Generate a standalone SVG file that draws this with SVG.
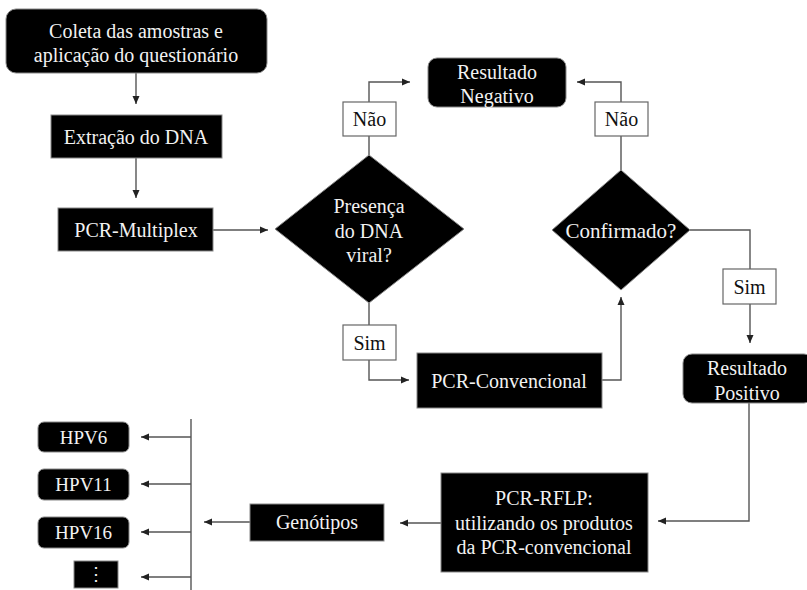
<svg xmlns="http://www.w3.org/2000/svg" width="807" height="590" viewBox="0 0 807 590">
<style>
.box{fill:#000;stroke:#888;stroke-width:1}
.lbl{fill:#fff;stroke:#666;stroke-width:1.2}
.t{font-size:20px;fill:#f2f2f2;text-anchor:middle;dominant-baseline:central}
.tl{font-size:20px;fill:#111;text-anchor:middle;dominant-baseline:central}
.c{fill:none;stroke:#555;stroke-width:1.4}
</style>
<defs>
<marker id="ah" markerUnits="userSpaceOnUse" markerWidth="9" markerHeight="8" refX="8" refY="4" orient="auto">
<path d="M0,0.5 L8,4 L0,7.5 z" fill="#222"/>
</marker>
</defs>
<rect width="807" height="590" fill="#fff"/>
<g id="connectors">
<path class="c" d="M136,73 V104" marker-end="url(#ah)"/>
<path class="c" d="M136,158 V198" marker-end="url(#ah)"/>
<path class="c" d="M213,230 H268" marker-end="url(#ah)"/>
<path class="c" d="M369,155 V82 H410" marker-end="url(#ah)"/>
<path class="c" d="M621,170 V82 H577" marker-end="url(#ah)"/>
<path class="c" d="M369,303 V380 H409" marker-end="url(#ah)"/>
<path class="c" d="M602,380 H621 V297" marker-end="url(#ah)"/>
<path class="c" d="M690,230 H750 V343" marker-end="url(#ah)"/>
<path class="c" d="M749,403 V521 H658" marker-end="url(#ah)"/>
<path class="c" d="M441,523 H400" marker-end="url(#ah)"/>
<path class="c" d="M250,522 H204" marker-end="url(#ah)"/>
<path class="c" d="M191,419 V590"/>
<path class="c" d="M191,437 H141" marker-end="url(#ah)"/>
<path class="c" d="M191,484 H141" marker-end="url(#ah)"/>
<path class="c" d="M191,532 H141" marker-end="url(#ah)"/>
<path class="c" d="M191,577 H141" marker-end="url(#ah)"/>
</g>
<g font-family="'Liberation Serif', 'Times New Roman', 'DejaVu Serif', serif">
<g id="coleta">
<rect class="box" x="6" y="9" width="261" height="64" rx="10"/>
<text class="t" x="136" y="31">Coleta das amostras e</text>
<text class="t" x="136" y="55">aplicação do questionário</text>
</g>
<g id="extracao">
<rect class="box" x="51" y="115" width="171" height="43"/>
<text class="t" x="136" y="137">Extração do DNA</text>
</g>
<g id="multiplex">
<rect class="box" x="58" y="208" width="155" height="43"/>
<text class="t" x="136" y="230">PCR-Multiplex</text>
</g>
<g id="presenca">
<polygon class="box" points="369,155 464,229 369,303 275,229"/>
<text class="t" x="369" y="206">Presença</text>
<text class="t" x="369" y="231">do DNA</text>
<text class="t" x="369" y="255">viral?</text>
</g>
<g id="negativo">
<rect class="box" x="428" y="58" width="138" height="49" rx="9"/>
<text class="t" x="497" y="72">Resultado</text>
<text class="t" x="497" y="96">Negativo</text>
</g>
<g id="confirmado">
<polygon class="box" points="621,170 690,230 621,290 552,230"/>
<text class="t" x="621" y="231" style="font-size:21px">Confirmado?</text>
</g>
<g id="convencional">
<rect class="box" x="417" y="353" width="185" height="55"/>
<text class="t" x="509" y="381">PCR-Convencional</text>
</g>
<g id="positivo">
<rect class="box" x="683" y="354" width="130" height="49" rx="9"/>
<text class="t" x="747" y="368">Resultado</text>
<text class="t" x="747" y="393">Positivo</text>
</g>
<g id="rflp">
<rect class="box" x="441" y="473" width="207" height="99"/>
<text class="t" x="544" y="498">PCR-RFLP:</text>
<text class="t" x="544" y="523">utilizando os produtos</text>
<text class="t" x="544" y="547">da PCR-convencional</text>
</g>
<g id="genotipos">
<rect class="box" x="250" y="504" width="134" height="37"/>
<text class="t" x="317" y="522">Genótipos</text>
</g>
<g id="hpv6">
<rect class="box" x="38" y="422" width="91" height="30" rx="6"/>
<text class="t" x="83.5" y="437" style="font-size:19px">HPV6</text>
</g>
<g id="hpv11">
<rect class="box" x="38" y="469" width="91" height="31" rx="6"/>
<text class="t" x="83.5" y="484.5" style="font-size:19px">HPV11</text>
</g>
<g id="hpv16">
<rect class="box" x="38" y="517" width="91" height="31" rx="6"/>
<text class="t" x="83.5" y="532.5" style="font-size:19px">HPV16</text>
</g>
<g id="more">
<rect class="box" x="74" y="561" width="44" height="27"/>
<text class="t" x="96" y="574" style="font-size:18px">⋮</text>
</g>
<g id="label-nao1">
<rect class="lbl" x="343" y="102" width="53" height="34"/>
<text class="tl" x="369.5" y="119">Não</text>
</g>
<g id="label-nao2">
<rect class="lbl" x="595" y="102" width="53" height="34"/>
<text class="tl" x="621.5" y="119">Não</text>
</g>
<g id="label-sim1">
<rect class="lbl" x="343" y="325" width="53" height="35"/>
<text class="tl" x="369.5" y="342.5">Sim</text>
</g>
<g id="label-sim2">
<rect class="lbl" x="723" y="269" width="53" height="35"/>
<text class="tl" x="749.5" y="286.5">Sim</text>
</g>
</g>
</svg>
